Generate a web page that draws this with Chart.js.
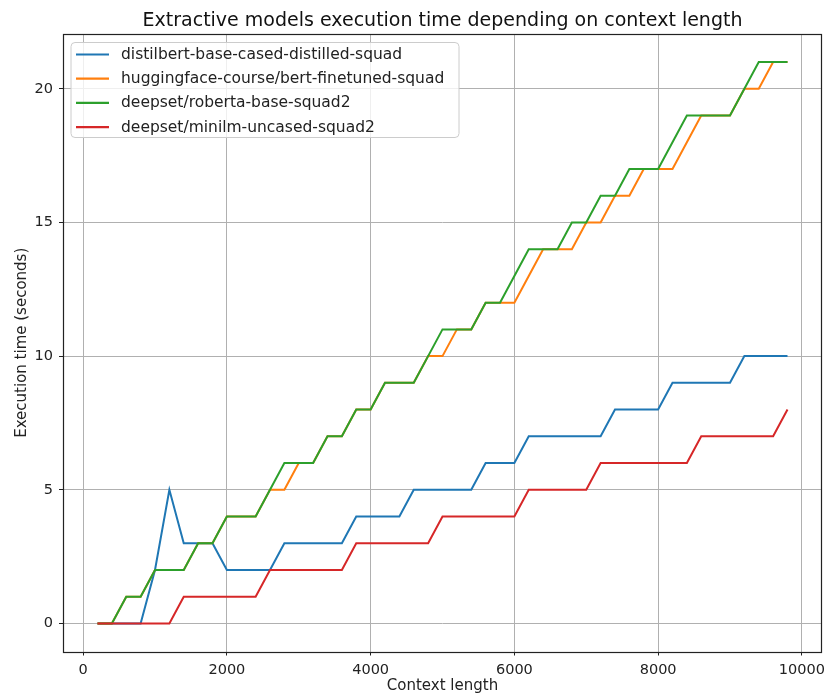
<!DOCTYPE html>
<html>
<head>
<meta charset="utf-8">
<script src="https://cdn.jsdelivr.net/npm/chart.js@4.4.0/dist/chart.umd.min.js"></script>
<style>
  html, body { margin: 0; padding: 0; background: #fff; }
  #wrap { width: 824px; height: 695px; }
</style>
</head>
<body>
<div id="wrap"><canvas id="chart" width="824" height="695"></canvas></div>
<script>
const titleText = "Extractive models execution time depending on context length";
const xLabel = "Context length";
const yLabel = "Execution time (seconds)";

const contextLengths = [200, 400, 600, 800, 1000, 1200, 1400, 1600, 1800, 2000,
  2200, 2400, 2600, 2800, 3000, 3200, 3400, 3600, 3800, 4000,
  4200, 4400, 4600, 4800, 5000, 5200, 5400, 5600, 5800, 6000,
  6200, 6400, 6600, 6800, 7000, 7200, 7400, 7600, 7800, 8000,
  8200, 8400, 8600, 8800, 9000, 9200, 9400, 9600, 9800];

const modelNames = [
  "distilbert-base-cased-distilled-squad",
  "huggingface-course/bert-finetuned-squad",
  "deepset/roberta-base-squad2",
  "deepset/minilm-uncased-squad2"
];

const distilbertTimes = [0, 0, 0, 0, 2, 5, 3, 3, 3, 2,
  2, 2, 2, 3, 3, 3, 3, 3, 4, 4,
  4, 4, 5, 5, 5, 5, 5, 6, 6, 6,
  7, 7, 7, 7, 7, 7, 8, 8, 8, 8,
  9, 9, 9, 9, 9, 10, 10, 10, 10];

const bertTimes = [0, 0, 1, 1, 2, 2, 2, 3, 3, 4,
  4, 4, 5, 5, 6, 6, 7, 7, 8, 8,
  9, 9, 9, 10, 10, 11, 11, 12, 12, 12,
  13, 14, 14, 14, 15, 15, 16, 16, 17, 17,
  17, 18, 19, 19, 19, 20, 20, 21, 21];

const robertaTimes = [0, 0, 1, 1, 2, 2, 2, 3, 3, 4,
  4, 4, 5, 6, 6, 6, 7, 7, 8, 8,
  9, 9, 9, 10, 11, 11, 11, 12, 12, 13,
  14, 14, 14, 15, 15, 16, 16, 17, 17, 17,
  18, 19, 19, 19, 19, 20, 21, 21, 21];

const minilmTimes = [0, 0, 0, 0, 0, 0, 1, 1, 1, 1,
  1, 1, 2, 2, 2, 2, 2, 2, 3, 3,
  3, 3, 3, 3, 4, 4, 4, 4, 4, 4,
  5, 5, 5, 5, 5, 6, 6, 6, 6, 6,
  6, 6, 7, 7, 7, 7, 7, 7, 8];

const xTicks = [0, 2000, 4000, 6000, 8000, 10000];
const yTicks = [0, 5, 10, 15, 20];

const colors = ["#1f77b4", "#ff7f0e", "#2ca02c", "#d62728"];
const seriesValues = [distilbertTimes, bertTimes, robertaTimes, minilmTimes];

const FONT = "'DejaVu Sans', sans-serif";

// frame, title and legend drawn the matplotlib way
const mplLook = {
  id: "mplLook",
  afterDatasetsDraw(chart) {
    const { ctx, chartArea: a } = chart;
    ctx.save();
    // spines
    ctx.strokeStyle = "#222";
    ctx.lineWidth = 1.2;
    ctx.strokeRect(Math.round(a.left) + 0.5, Math.round(a.top) + 0.5,
      Math.round(a.right - a.left) - 1, Math.round(a.bottom - a.top));

    // legend box
    const bx = a.left + 8, by = a.top + 8.5, bw = 388, bh = 95, r = 4;
    ctx.beginPath();
    ctx.moveTo(bx + r, by);
    ctx.arcTo(bx + bw, by, bx + bw, by + bh, r);
    ctx.arcTo(bx + bw, by + bh, bx, by + bh, r);
    ctx.arcTo(bx, by + bh, bx, by, r);
    ctx.arcTo(bx, by, bx + bw, by, r);
    ctx.closePath();
    ctx.fillStyle = "rgba(255,255,255,0.8)";
    ctx.fill();
    ctx.strokeStyle = "#cccccc";
    ctx.lineWidth = 1;
    ctx.stroke();

    ctx.font = "15.5px " + FONT;
    ctx.textBaseline = "middle";
    ctx.textAlign = "left";
    modelNames.forEach((name, i) => {
      const y = by + 12 + i * 24.2;
      ctx.strokeStyle = colors[i];
      ctx.lineWidth = 2.2;
      ctx.beginPath();
      ctx.moveTo(bx + 5, y);
      ctx.lineTo(bx + 38, y);
      ctx.stroke();
      ctx.fillStyle = "#222";
      ctx.fillText(name, bx + 50, y + 0.5);
    });

    // title centred over the axes
    ctx.font = "19px " + FONT;
    ctx.fillStyle = "#111";
    ctx.textAlign = "center";
    ctx.fillText(titleText, (a.left + a.right) / 2, 21);
    ctx.restore();
  }
};

const datasets = seriesValues.map((vals, i) => ({
  label: modelNames[i],
  data: contextLengths.map((x, j) => ({ x: x, y: vals[j] })),
  borderColor: colors[i],
  backgroundColor: colors[i],
  borderWidth: 2,
  pointRadius: 0,
  tension: 0,
  fill: false,
  order: 4 - i
}));

new Chart(document.getElementById("chart").getContext("2d"), {
  type: "line",
  data: { datasets: datasets },
  options: {
    responsive: false,
    animation: false,
    layout: { padding: { top: 34, right: 2, left: 0, bottom: 0 } },
    plugins: {
      legend: { display: false },
      title: { display: false },
      tooltip: { enabled: false }
    },
    scales: {
      x: {
        type: "linear",
        min: -280,
        max: 10280,
        afterBuildTicks: (scale) => { scale.ticks = xTicks.map(v => ({ value: v })); },
        afterFit: (scale) => { scale.height = 43.5; scale.paddingLeft = 0; scale.paddingRight = 0; },
        grid: { color: "#b0b0b0", lineWidth: 1, tickColor: "#222", tickLength: 4, drawTicks: true },
        border: { display: false },
        ticks: { font: { family: FONT, size: 14.5 }, color: "#222", padding: 6, maxRotation: 0,
          callback: (v) => String(v) },
        title: { display: true, text: xLabel, font: { family: FONT, size: 15 }, color: "#222", padding: { top: 0, bottom: 0 } }
      },
      y: {
        type: "linear",
        min: -1.05,
        max: 22.05,
        afterBuildTicks: (scale) => { scale.ticks = yTicks.map(v => ({ value: v })); },
        afterFit: (scale) => { scale.width = 63; scale.paddingTop = 0; scale.paddingBottom = 0; },
        grid: { color: "#b0b0b0", lineWidth: 1, tickColor: "#222", tickLength: 4, drawTicks: true },
        border: { display: false },
        ticks: { font: { family: FONT, size: 14.5 }, color: "#222", padding: 6,
          callback: (v) => String(v) },
        title: { display: true, text: yLabel, font: { family: FONT, size: 15 }, color: "#222", padding: { top: 13, bottom: 0 } }
      }
    }
  },
  plugins: [mplLook]
});
</script>
</body>
</html>
